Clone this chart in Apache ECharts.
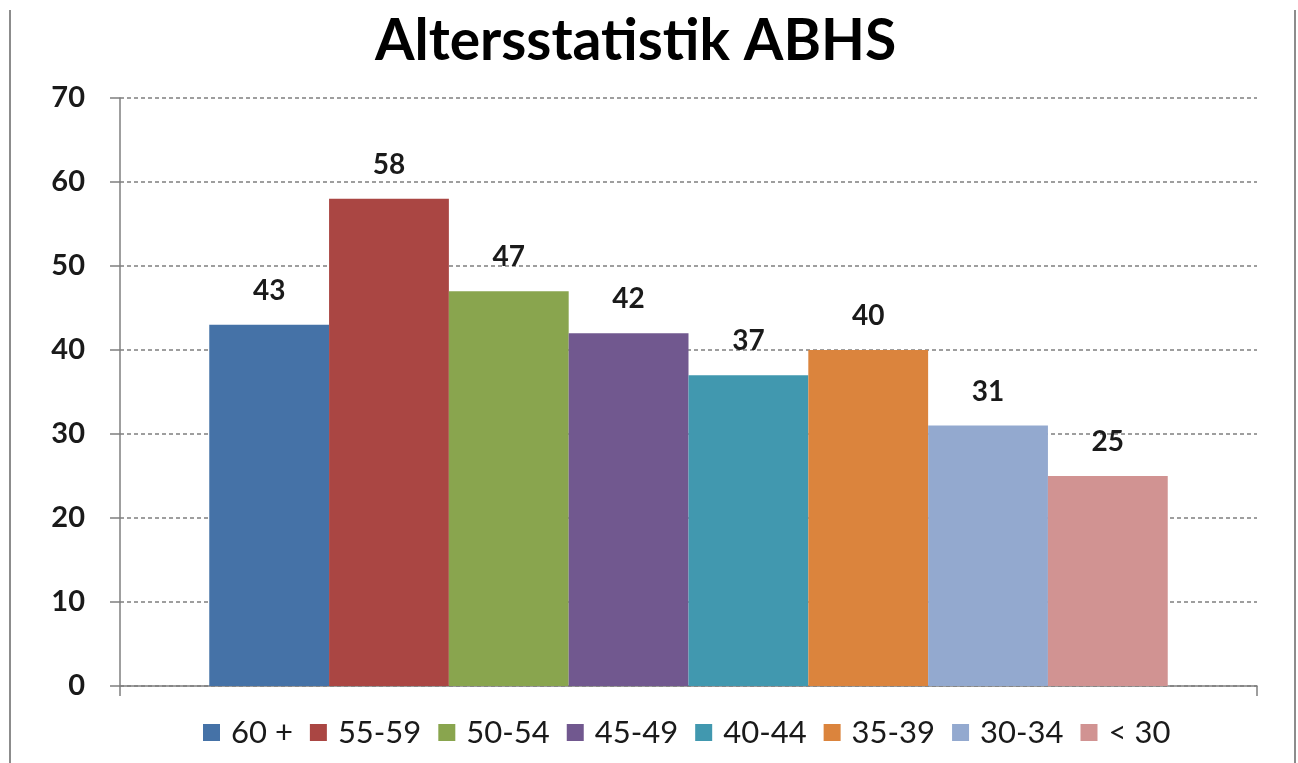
<!DOCTYPE html>
<html>
<head>
<meta charset="utf-8">
<script src="https://cdn.jsdelivr.net/npm/echarts@6/dist/echarts.min.js"></script>
<style>html,body{margin:0;padding:0;background:#fff}#c{width:1298px;height:763px}</style>
</head>
<body>
<div id="c"></div>
<script>
var titleText = 'Altersstatistik ABHS';
var groups = ['60 +', '55-59', '50-54', '45-49', '40-44', '35-39', '30-34', '< 30'];
var counts = [43, 58, 47, 42, 37, 40, 31, 25];
var colors = ['#4572A7', '#AA4643', '#89A54E', '#71588F', '#4198AF', '#DB843D', '#93A9CF', '#D19392'];
var yTicks = {min: 0, max: 70, interval: 10};

var FONT = 'Lato';
var chart = echarts.init(document.getElementById('c'));
var series = groups.map(function (g, i) {
  return {
    name: g,
    type: 'bar',
    data: [counts[i]],
    barGap: '0%',
    barCategoryGap: '15.7%',
    itemStyle: {color: colors[i]},
    label: {
      show: true, position: 'top', distance: 20,
      fontFamily: FONT, fontWeight: 'bold', fontSize: 28, color: '#1a1a1a'
    }
  };
});
chart.setOption({
  animation: false,
  backgroundColor: '#fff',
  title: {
    text: titleText, left: 370, top: 8,
    textStyle: {fontFamily: FONT, fontWeight: 'bold', fontSize: 57, color: '#000'}
  },
  legend: {
    bottom: 10, left: 198,
    icon: 'rect', itemWidth: 17, itemHeight: 17, itemGap: 17,
    textStyle: {fontFamily: FONT, fontSize: 31, color: '#1a1a1a', padding: [0, 0, 0, 6]},
    data: groups
  },
  grid: {left: 120, right: 41, top: 98, bottom: 77, containLabel: false},
  xAxis: {
    type: 'category', data: [''],
    axisLine: {lineStyle: {color: '#7f7f7f', width: 1.5}},
    axisTick: {show: true, length: 10, lineStyle: {color: '#7f7f7f', width: 1.5}},
    axisLabel: {show: false}
  },
  yAxis: {
    type: 'value', min: yTicks.min, max: yTicks.max, interval: yTicks.interval,
    axisLine: {show: true, lineStyle: {color: '#7f7f7f', width: 1.5}},
    axisTick: {show: true, length: 10, lineStyle: {color: '#7f7f7f', width: 1.5}},
    axisLabel: {margin: 35, fontFamily: FONT, fontWeight: 'bold', fontSize: 29, color: '#1a1a1a'},
    splitLine: {show: true, lineStyle: {color: '#7f7f7f', type: [4, 3], width: 1.5}}
  },
  graphic: [
    {type: 'line', shape: {x1: 10, y1: 10, x2: 10, y2: 763}, style: {stroke: '#8c8c8c', lineWidth: 2}},
    {type: 'line', shape: {x1: 1295, y1: 10, x2: 1295, y2: 763}, style: {stroke: '#8c8c8c', lineWidth: 2}}
  ],
  series: series
});
</script>
</body>
</html>
